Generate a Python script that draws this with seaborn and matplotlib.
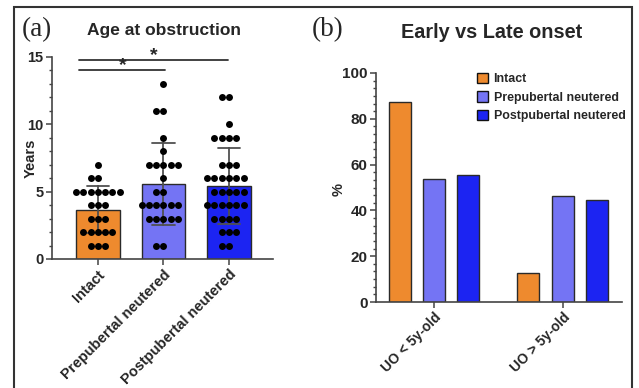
import numpy as np
import pandas as pd
import matplotlib
matplotlib.use("Agg")
import matplotlib.pyplot as plt
from matplotlib.ticker import MultipleLocator
from matplotlib.patches import Rectangle
import seaborn as sns

# ---- data ----
groups = ["Intact", "Prepubertal neutered", "Postpubertal neutered"]
intact_years = [7, 6, 6, 5, 5, 5, 5, 5, 5, 5, 4, 4, 4, 3, 3, 3, 2, 2, 2, 2, 2, 1, 1, 1]
prepub_years = [13, 11, 11, 9, 8, 7, 7, 7, 7, 7, 6, 5, 5, 4, 4, 4, 4, 4, 4,
                3, 3, 3, 3, 3, 1, 1]
postpub_years = [12, 12, 10, 9, 9, 9, 9, 7, 7, 7, 6, 6, 6, 6, 6, 6, 5, 5, 5, 5, 5,
                 4, 4, 4, 4, 4, 4, 3, 3, 3, 3, 2, 2, 2, 1, 1]
onset_cats = ["UO < 5y-old", "UO > 5y-old"]
pct_intact = [87.5, 12.5]
pct_prepub = [53.8, 46.2]
pct_postpub = [55.6, 44.4]

colors = ["#EE8A2E", "#7474F4", "#1C24F2"]

sns.set_style("ticks")
plt.rcParams["font.family"] = ["Liberation Sans", "DejaVu Sans"]
plt.rcParams["font.weight"] = "bold"

df1 = pd.DataFrame({
    "group": [groups[0]] * len(intact_years) + [groups[1]] * len(prepub_years)
             + [groups[2]] * len(postpub_years),
    "years": intact_years + prepub_years + postpub_years,
})
df2 = pd.DataFrame({
    "onset": onset_cats * 3,
    "group": [g for g in groups for _ in onset_cats],
    "pct": pct_intact + pct_prepub + pct_postpub,
})

fig = plt.figure(figsize=(6.39, 3.88), dpi=100)
ax1 = fig.add_axes([52 / 639, 1 - 259 / 388, (273 - 52) / 639, (259 - 57) / 388])
ax2 = fig.add_axes([376 / 639, 1 - 302 / 388, (622 - 376) / 639, (302 - 73) / 388])

edge = "#2a2a2a"
# ---- panel a ----
sns.barplot(data=df1, x="group", y="years", hue="group", order=groups,
            hue_order=groups, palette=colors, saturation=1, errorbar="sd",
            capsize=0.34, err_kws={"color": "#505050", "linewidth": 1.3},
            width=0.66, edgecolor=edge, linewidth=1.0, legend=False, ax=ax1)
sns.swarmplot(data=df1, x="group", y="years", order=groups, color="black",
              size=5.0, ax=ax1)
ax1.set_ylim(0, 15)
ax1.set_xlim(-0.70, 2.67)
ax1.yaxis.set_major_locator(MultipleLocator(5))
ax1.yaxis.set_minor_locator(MultipleLocator(1))
ax1.set_xlabel("")
ax1.set_ylabel("Years", fontsize=10.5, fontweight="bold")
ax1.yaxis.set_label_coords(-0.065, 0.50)
ax1.set_xticks(range(3))
ax1.set_xticklabels(groups, rotation=45, ha="right", rotation_mode="anchor",
                    fontsize=10.5, fontweight="bold")
for lab in ax1.get_yticklabels():
    lab.set_fontweight("bold")
    lab.set_fontsize(10.5)

# significance bars
ax1.plot([-0.29, 1.02], [14.0, 14.0], color="#333333", lw=1.3, clip_on=False)
ax1.text(0.38, 13.7, "*", ha="center", va="bottom", fontsize=14, fontweight="bold", clip_on=False)
ax1.plot([-0.29, 1.98], [14.78, 14.78], color="#333333", lw=1.3, clip_on=False)
ax1.text(0.85, 14.5, "*", ha="center", va="bottom", fontsize=14, fontweight="bold", clip_on=False)

# ---- panel b ----
sns.barplot(data=df2, x="onset", y="pct", hue="group", order=onset_cats,
            hue_order=groups, palette=colors, saturation=1, gap=0.36,
            edgecolor=edge, linewidth=1.0, ax=ax2)
ax2.set_ylim(0, 100)
ax2.set_xlim(-0.45, 1.46)
ax2.yaxis.set_major_locator(MultipleLocator(20))
ax2.yaxis.set_minor_locator(MultipleLocator(20 / 6))
ax2.set_xlabel("")
ax2.set_ylabel("%", fontsize=10.5, fontweight="bold")
ax2.yaxis.set_label_coords(-0.125, 0.49)
ax2.set_xticks(range(2))
ax2.set_xticklabels(onset_cats, rotation=45, ha="right", rotation_mode="anchor",
                    fontsize=10, fontweight="bold")
for lab in ax2.get_yticklabels():
    lab.set_fontweight("bold")
    lab.set_fontsize(11)
leg = ax2.legend(loc="upper left", bbox_to_anchor=(0.365, 1.05), frameon=False,
                 handlelength=0.9, handleheight=0.9, handletextpad=0.45,
                 labelspacing=0.5, prop={"weight": "bold", "size": 8.9})
for h in leg.legend_handles:
    h.set_edgecolor("#111111")
    h.set_linewidth(1.0)

for ax in (ax1, ax2):
    sns.despine(ax=ax)
    for s in ("left", "bottom"):
        ax.spines[s].set_color("#444444")
        ax.spines[s].set_linewidth(1.2)
    ax.tick_params(axis="both", which="major", length=4, width=1.1, color="#444444", pad=2)
    ax.tick_params(axis="y", which="minor", length=2.5, width=1.0, color="#444444")

# titles
fig.text(22 / 639, 1 - 30 / 388, "(a)", fontsize=19.5, family="Liberation Serif",
         fontweight="normal", va="center", ha="left")
fig.text(164 / 639, 1 - 30 / 388, "Age at obstruction", fontsize=12.5,
         fontweight="bold", va="center", ha="center")
fig.text(312 / 639, 1 - 30 / 388, "(b)", fontsize=19.5, family="Liberation Serif",
         fontweight="normal", va="center", ha="left")
fig.text(492 / 639, 1 - 33 / 388, "Early vs Late onset", fontsize=14.3,
         fontweight="bold", va="center", ha="center")

# outer frame
fig.patches.append(Rectangle((14 / 639, -0.05), (632 - 14) / 639, 1.05 - 7 / 388,
                             transform=fig.transFigure, fill=False,
                             edgecolor="#333333", linewidth=1.5))

fig.savefig("out.png", dpi=100)
